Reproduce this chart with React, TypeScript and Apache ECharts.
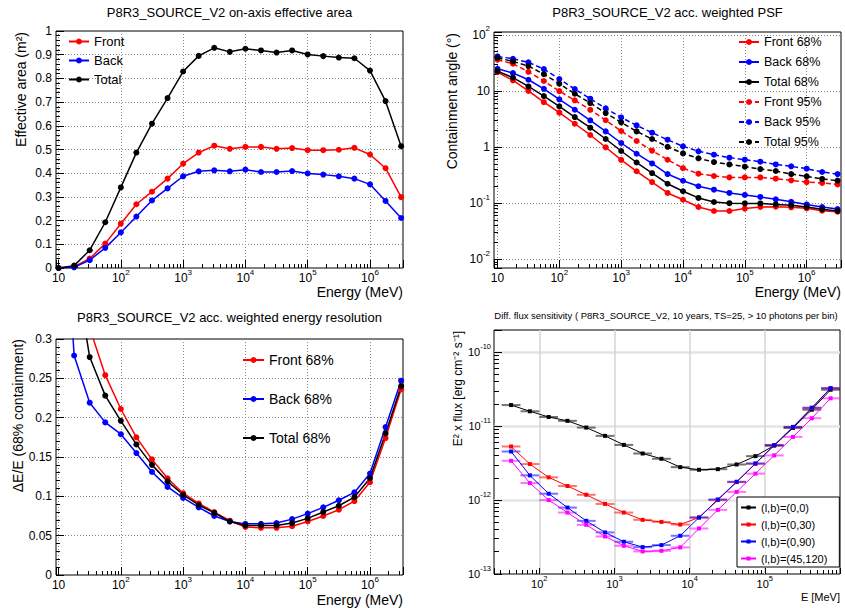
import React, { useEffect, useRef } from "react";
import * as echarts from "echarts";

const FONT = "'Liberation Sans', Arial, Helvetica, sans-serif";

// ---------------- data ----------------
const energies = [10, 17.78, 31.62, 56.23, 100, 177.8, 316.2, 562.3, 1000, 1778, 3162, 5623, 10000, 17783, 31623, 56234, 100000, 177828, 316228, 562341, 1000000, 1778279, 3162278];

// effective area (m^2)
const aeffFront = [0, 0.005, 0.04, 0.103, 0.187, 0.269, 0.322, 0.377, 0.44, 0.487, 0.516, 0.503, 0.511, 0.511, 0.503, 0.506, 0.497, 0.497, 0.499, 0.507, 0.479, 0.421, 0.299];
const aeffBack = [0, 0.003, 0.033, 0.085, 0.15, 0.217, 0.285, 0.336, 0.387, 0.408, 0.412, 0.408, 0.415, 0.405, 0.405, 0.409, 0.399, 0.394, 0.387, 0.377, 0.353, 0.283, 0.211];
const aeffTotal = [0, 0.01, 0.075, 0.193, 0.34, 0.487, 0.609, 0.717, 0.829, 0.895, 0.929, 0.912, 0.925, 0.918, 0.909, 0.918, 0.901, 0.894, 0.888, 0.885, 0.833, 0.704, 0.514];

// PSF containment angle (deg)
const psfFront68 = [21.6, 15.4, 10, 6.3, 4.1, 2.6, 1.64, 0.99, 0.59, 0.37, 0.238, 0.152, 0.115, 0.0855, 0.0726, 0.0726, 0.08, 0.0855, 0.0867, 0.0843, 0.081, 0.0736, 0.0706];
const psfBack68 = [24.8, 20.8, 15.8, 10.9, 7.06, 4.62, 2.99, 1.9, 1.18, 0.76, 0.51, 0.33, 0.251, 0.2, 0.174, 0.152, 0.14, 0.129, 0.117, 0.106, 0.095, 0.0855, 0.0788];
const psfTotal68 = [22.5, 17.2, 12, 8.1, 5.3, 3.42, 2.21, 1.39, 0.85, 0.53, 0.344, 0.222, 0.163, 0.124, 0.105, 0.1, 0.099, 0.099, 0.095, 0.0914, 0.0855, 0.0777, 0.0726];
const psfFront95 = [35.9, 30.5, 21.9, 15, 9.9, 6.8, 4.6, 3.0, 1.93, 1.28, 0.86, 0.594, 0.42, 0.335, 0.305, 0.288, 0.288, 0.288, 0.273, 0.255, 0.238, 0.229, 0.216];
const psfBack95 = [41.1, 37.4, 32.2, 24.5, 16.2, 10.8, 7.26, 4.88, 3.37, 2.43, 1.8, 1.35, 1.03, 0.84, 0.73, 0.646, 0.595, 0.548, 0.49, 0.453, 0.411, 0.359, 0.33];
const psfTotal95 = [38.9, 33.5, 27.7, 19.9, 13.4, 8.9, 6.07, 4.03, 2.75, 1.9, 1.39, 1.01, 0.77, 0.63, 0.54, 0.49, 0.446, 0.405, 0.374, 0.33, 0.3, 0.27, 0.252];

// energy resolution dE/E
const edispFront = [0.6, 0.45, 0.314, 0.254, 0.211, 0.175, 0.147, 0.123, 0.104, 0.091, 0.08, 0.069, 0.061, 0.06, 0.06, 0.062, 0.068, 0.075, 0.083, 0.094, 0.118, 0.174, 0.236];
const edispBack = [0.6, 0.279, 0.219, 0.194, 0.179, 0.155, 0.131, 0.112, 0.098, 0.086, 0.075, 0.068, 0.065, 0.065, 0.066, 0.071, 0.078, 0.086, 0.095, 0.105, 0.129, 0.188, 0.247];
const edispTotal = [0.55, 0.397, 0.277, 0.228, 0.196, 0.166, 0.14, 0.119, 0.102, 0.089, 0.079, 0.068, 0.063, 0.063, 0.063, 0.066, 0.072, 0.08, 0.088, 0.099, 0.123, 0.18, 0.24];

// differential sensitivity
const sensEnergy = [42.17, 74.99, 133.4, 237.1, 421.7, 749.9, 1334, 2371, 4217, 7499, 13335, 23714, 42170, 74989, 133352, 237137, 421697, 749894];
const sensBinLow = [31.62, 56.23, 100, 177.8, 316.2, 562.3, 1000, 1778, 3162, 5623, 10000, 17783, 31623, 56234, 100000, 177828, 316228, 562341];
const sensBinHigh = [56.23, 100, 177.8, 316.2, 562.3, 1000, 1778, 3162, 5623, 10000, 17783, 31623, 56234, 100000, 177828, 316228, 562341, 1000000];
const sens00 = [1.93e-11, 1.59e-11, 1.33e-11, 1.18e-11, 9.57e-12, 7.39e-12, 5.58e-12, 4.27e-12, 3.62e-12, 2.79e-12, 2.57e-12, 2.62e-12, 3.03e-12, 3.93e-12, 5.47e-12, 9.46e-12, 1.67e-11, 3.11e-11];
const sens030 = [5.31e-12, 3.07e-12, 2.03e-12, 1.55e-12, 1.18e-12, 8.87e-13, 6.78e-13, 5.4e-13, 5.07e-13, 4.67e-13, 5.81e-13, 1.0e-12, 1.75e-12, 3.1e-12, 5.5e-12, 9.7e-12, 1.75e-11, 3.25e-11];
const sens090 = [4.54e-12, 2.16e-12, 1.22e-12, 7.92e-13, 5.24e-13, 3.65e-13, 2.73e-13, 2.31e-13, 2.46e-13, 3.29e-13, 5.81e-13, 1.02e-12, 1.77e-12, 3.13e-12, 5.53e-12, 9.77e-12, 1.78e-11, 3.27e-11];
const sens45120 = [3.4e-12, 1.7e-12, 1.0e-12, 6.78e-13, 4.62e-13, 3.22e-13, 2.41e-13, 2.02e-13, 2.06e-13, 2.29e-13, 4.13e-13, 7.37e-13, 1.29e-12, 2.28e-12, 4.02e-12, 7.16e-12, 1.28e-11, 2.38e-11];

// ---------------- helpers ----------------
const richLabel = (size: number, sup: number, pad: number[]) => ({
  b: { fontSize: size, fontFamily: FONT, color: "#000", padding: pad },
  s: { fontSize: sup, fontFamily: FONT, color: "#000", verticalAlign: "top" },
});

const logLabel = (v: number) => {
  if (!(v > 0)) return "";
  const e = Math.log10(v);
  const r = Math.round(e);
  if (Math.abs(e - r) > 1e-4) return "";
  if (r === 0) return "{b|1}";
  if (r === 1) return "{b|10}";
  return "{b|10}{s|" + r + "}";
};

const dotted = { show: true, showMinLine: false, showMaxLine: false, lineStyle: { color: "#8a8a8a", width: 1, type: [1, 2] } };

function logAxis(gridIndex: number, min: number, max: number, isX: boolean, o: any = {}) {
  const size = o.size ?? 12;
  return {
    type: "log",
    logBase: 10,
    gridIndex,
    min,
    max,
    axisLine: { show: false },
    axisTick: { show: true, inside: true, length: o.tick ?? 8, lineStyle: { color: "#000", width: 1 } },
    minorTick: { show: true, splitNumber: 9, length: o.minor ?? 4, lineStyle: { color: "#000", width: 1 } },
    splitLine: o.split ?? dotted,
    axisLabel: {
      formatter: logLabel,
      rich: richLabel(size, o.sup ?? 8, isX ? [4, 0, 0, 0] : [4, 0, 4, 0]),
      margin: isX ? (o.margin ?? 0) : (o.margin ?? 4),
      showMinLabel: o.showMin,
      showMaxLabel: false,
      hideOverlap: false,
    },
  };
}

function linAxis(gridIndex: number, min: number, max: number, interval: number) {
  return {
    type: "value",
    gridIndex,
    min,
    max,
    interval,
    axisLine: { show: false },
    axisTick: { show: true, inside: true, length: 8, lineStyle: { color: "#000", width: 1 } },
    minorTick: { show: true, splitNumber: 5, length: 4, lineStyle: { color: "#000", width: 1 } },
    splitLine: dotted,
    axisLabel: { color: "#000", fontSize: 12, fontFamily: FONT, margin: 4, showMinLabel: true, showMaxLabel: true },
  };
}

function line(name: string, xs: number[], ys: number[], color: string, idx: number, o: any = {}) {
  return {
    name,
    type: "line",
    xAxisIndex: idx,
    yAxisIndex: idx,
    data: xs.map((x, i) => [x, ys[i]]),
    symbol: o.symbol ?? "circle",
    symbolSize: o.size ?? 6,
    showSymbol: true,
    clip: true,
    silent: true,
    emphasis: { disabled: true },
    itemStyle: { color },
    lineStyle: { color, width: o.width ?? 1.5, type: o.dash ?? "solid" },
  };
}

function errBars(ys: number[], color: string) {
  return {
    type: "custom",
    xAxisIndex: 3,
    yAxisIndex: 3,
    clip: true,
    silent: true,
    data: sensBinLow.map((lo, i) => [lo, sensBinHigh[i], ys[i]]),
    encode: { x: [0, 1], y: 2 },
    renderItem: (params: any, api: any) => {
      const p1 = api.coord([api.value(0), api.value(2)]);
      const p2 = api.coord([api.value(1), api.value(2)]);
      return {
        type: "line",
        shape: { x1: p1[0], y1: p1[1], x2: p2[0], y2: p2[1] },
        style: { stroke: color, lineWidth: 2, opacity: 0.55 },
      };
    },
  };
}

function txt(text: string, x: number, y: number, size: number, align = "center", vAlign = "middle", rotation = 0) {
  return {
    type: "text",
    x,
    y,
    rotation,
    silent: true,
    style: {
      text,
      fill: "#000",
      fontSize: size,
      fontFamily: FONT,
      align,
      verticalAlign: vAlign,
      textAlign: align,
      textVerticalAlign: vAlign,
    },
  };
}

const legendBase = {
  orient: "vertical",
  padding: 0,
  selectedMode: false,
  itemWidth: 20,
  itemHeight: 7.5,
};

export default function App() {
  const ref = useRef<HTMLDivElement>(null);
  useEffect(() => {
    if (!ref.current) return;
    const chart = echarts.init(ref.current, null, { renderer: "svg" });
    const grids = [
      { left: 56, top: 31, width: 347, height: 237 },
      { left: 494, top: 32, width: 347, height: 236 },
      { left: 56, top: 339, width: 347, height: 236 },
      { left: 494, top: 330, width: 346, height: 244 },
    ].map((g) => ({ ...g, show: true, borderColor: "#000", borderWidth: 1, backgroundColor: "transparent", containLabel: false, outerBoundsMode: "none" }));

    const brSplitX = { show: true, showMinLine: false, showMaxLine: false, lineStyle: { color: "#d4d4d4", width: 1.5, type: "solid" } };
    const brSplitY = { show: true, showMinLine: false, showMaxLine: false, lineStyle: { color: "#e4e4e4", width: 2.5, type: "solid" } };

    const option: any = {
      animation: false,
      backgroundColor: "#fff",
      textStyle: { fontFamily: FONT, color: "#000" },
      grid: grids,
      xAxis: [
        logAxis(0, 9.1, 3.39e6, true),
        logAxis(1, 8.78, 3.59e6, true),
        logAxis(2, 9.1, 3.39e6, true),
        logAxis(3, 25, 1e6, true, { size: 11, sup: 7.5, tick: 6, minor: 4, split: brSplitX, margin: 0 }),
      ],
      yAxis: [
        linAxis(0, 0, 1, 0.1),
        logAxis(1, 0.007, 112, false),
        linAxis(2, 0, 0.3, 0.05),
        logAxis(3, 1e-13, 2e-10, false, { size: 11, sup: 7.5, tick: 8, minor: 5, split: brSplitY, showMin: true, margin: 3 }),
      ],
      legend: [
        {
          ...legendBase,
          left: 68,
          top: 35,
          itemGap: 6,
          data: ["Front", "Back", "Total"],
          textStyle: { fontFamily: FONT, fontSize: 13, color: "#000" },
        },
        {
          ...legendBase,
          left: 738,
          top: 35.5,
          itemGap: 7,
          data: ["Front 68%", "Back 68%", "Total 68%", "Front 95%", "Back 95%", "Total 95%"],
          textStyle: { fontFamily: FONT, fontSize: 12.5, color: "#000" },
        },
        {
          ...legendBase,
          left: 242,
          top: 353,
          itemWidth: 21,
          itemGap: 25,
          data: ["Front 68%", "Back 68%", "Total 68%"],
          textStyle: { fontFamily: FONT, fontSize: 14, color: "#000" },
        },
        {
          ...legendBase,
          left: 737,
          top: 497,
          itemWidth: 15,
          itemHeight: 5,
          itemGap: 6,
          padding: [5, 12, 3, 3],
          backgroundColor: "#fff",
          borderColor: "#000",
          borderWidth: 1,
          data: ["(l,b)=(0,0)", "(l,b)=(0,30)", "(l,b)=(0,90)", "(l,b)=(45,120)"],
          textStyle: { fontFamily: FONT, fontSize: 11, color: "#000" },
        },
      ],
      series: [
        line("Front", energies, aeffFront, "#ff0000", 0),
        line("Back", energies, aeffBack, "#0000ff", 0),
        line("Total", energies, aeffTotal, "#000000", 0),

        line("Front 68%", energies, psfFront68, "#ff0000", 1),
        line("Back 68%", energies, psfBack68, "#0000ff", 1),
        line("Total 68%", energies, psfTotal68, "#000000", 1),
        line("Front 95%", energies, psfFront95, "#ff0000", 1, { dash: [5, 3] }),
        line("Back 95%", energies, psfBack95, "#0000ff", 1, { dash: [5, 3] }),
        line("Total 95%", energies, psfTotal95, "#000000", 1, { dash: [5, 3] }),

        line("Front 68%", energies, edispFront, "#ff0000", 2),
        line("Back 68%", energies, edispBack, "#0000ff", 2),
        line("Total 68%", energies, edispTotal, "#000000", 2),

        errBars(sens00, "#000000"),
        line("(l,b)=(0,0)", sensEnergy, sens00, "#000000", 3, { symbol: "rect", size: 4, width: 1 }),
        errBars(sens030, "#ff0000"),
        line("(l,b)=(0,30)", sensEnergy, sens030, "#ff0000", 3, { symbol: "rect", size: 4, width: 1 }),
        errBars(sens090, "#0000ff"),
        line("(l,b)=(0,90)", sensEnergy, sens090, "#0000ff", 3, { symbol: "rect", size: 4, width: 1 }),
        errBars(sens45120, "#ff00ff"),
        line("(l,b)=(45,120)", sensEnergy, sens45120, "#ff00ff", 3, { symbol: "rect", size: 4, width: 1 }),
      ],
      graphic: {
        elements: [
          txt("P8R3_SOURCE_V2 on-axis effective area", 229.5, 12, 13),
          txt("P8R3_SOURCE_V2 acc. weighted PSF", 667.5, 12, 13),
          txt("P8R3_SOURCE_V2 acc. weighted energy resolution", 229.5, 317, 13),
          txt("Diff. flux sensitivity ( P8R3_SOURCE_V2, 10 years, TS=25, > 10 photons per bin)", 666, 315, 9.5),
          txt("Energy (MeV)", 403, 292, 14, "right"),
          txt("Energy (MeV)", 841, 292, 14, "right"),
          txt("Energy (MeV)", 403, 599.5, 14, "right"),
          txt("E [MeV]", 840, 597, 11, "right"),
          txt("Effective area (m²)", 21, 32, 14, "right", "middle", Math.PI / 2),
          txt("Containment angle (°)", 452, 33, 14, "right", "middle", Math.PI / 2),
          txt("ΔE/E (68% containment)", 18, 339, 14, "right", "middle", Math.PI / 2),
          txt("E² x flux [erg cm⁻² s⁻¹]", 458, 331, 12, "right", "middle", Math.PI / 2),
        ],
      },
    };
    chart.setOption(option);
    return () => chart.dispose();
  }, []);
  return (
    <div
      ref={ref}
      style={{ position: "absolute", left: 0, top: 0, width: 845, height: 608, background: "#fff" }}
    />
  );
}
